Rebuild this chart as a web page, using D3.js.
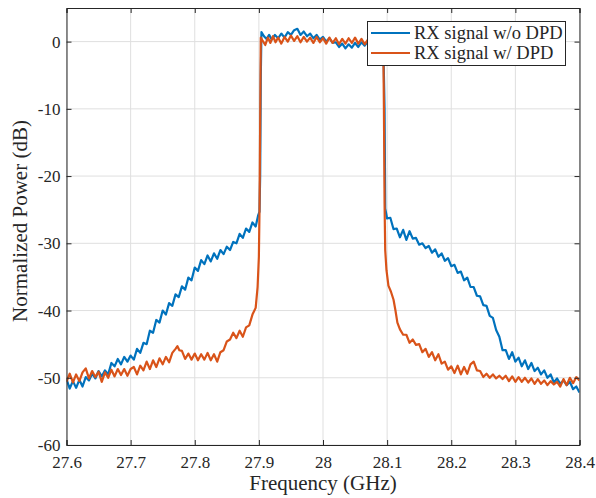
<!DOCTYPE html>
<html>
<head>
<meta charset="utf-8">
<script src="https://cdn.jsdelivr.net/npm/d3@7"></script>
<style>
  body { margin: 0; background: #fff; }
</style>
</head>
<body>
<div id="chart"></div>
<script>
// tick labels
const xTicks = [27.6, 27.7, 27.8, 27.9, 28, 28.1, 28.2, 28.3, 28.4];
const yTicks = [-60, -50, -40, -30, -20, -10, 0];

// RX signal w/o DPD : [frequency GHz, power dB]
const noDpd = [
  [27.600,-50.2],[27.605,-51.6],[27.610,-50.5],[27.615,-51.5],[27.620,-50.3],[27.625,-51.3],
  [27.630,-49.9],[27.635,-50.4],[27.640,-49.4],[27.645,-50.1],[27.650,-49.0],[27.655,-49.8],
  [27.660,-48.9],[27.665,-49.5],[27.670,-47.8],[27.675,-48.3],[27.680,-47.2],[27.685,-48.0],
  [27.690,-46.9],[27.695,-47.6],[27.700,-46.7],[27.705,-47.3],[27.710,-45.7],[27.715,-46.3],
  [27.720,-44.8],[27.725,-45.0],[27.730,-43.0],[27.735,-43.3],[27.740,-41.4],[27.745,-41.8],
  [27.750,-40.0],[27.755,-40.6],[27.760,-38.9],[27.765,-39.3],[27.770,-37.6],[27.775,-38.0],
  [27.780,-36.4],[27.785,-36.9],[27.790,-35.1],[27.795,-35.5],[27.800,-33.6],[27.805,-34.1],
  [27.810,-32.5],[27.815,-33.1],[27.820,-31.8],[27.825,-32.7],[27.830,-31.5],[27.835,-32.3],
  [27.840,-31.0],[27.845,-31.6],[27.850,-30.5],[27.855,-31.0],[27.860,-29.8],[27.865,-30.0],
  [27.870,-28.6],[27.875,-29.2],[27.880,-27.8],[27.885,-28.3],[27.890,-26.9],[27.895,-27.5],
  [27.899,-25.8],[27.901,-25.3],[27.902,-20],[27.903,-5],[27.904,1.4],[27.908,0.8],
  [27.912,0.4],[27.916,1.0],[27.920,0.3],[27.925,1.0],[27.930,0.5],[27.935,1.2],
  [27.940,0.6],[27.945,1.4],[27.950,1.0],[27.955,1.7],[27.960,1.9],[27.965,1.0],
  [27.970,1.5],[27.975,0.8],[27.980,1.2],[27.985,0.5],[27.990,1.0],[27.995,0.3],
  [28.000,0.7],[28.005,0.0],[28.010,0.5],[28.015,-0.2],[28.020,-0.1],[28.025,-0.8],
  [28.030,-0.3],[28.035,-1.0],[28.040,-0.4],[28.045,-0.9],[28.050,-0.2],[28.055,-0.8],
  [28.060,-0.1],[28.065,-0.6],[28.070,0.0],[28.075,-0.5],[28.080,0.2],[28.085,-0.3],
  [28.090,0.3],[28.094,0.0],[28.096,-10],[28.097,-24.8],[28.100,-26.3],[28.105,-26.2],
  [28.110,-27.9],[28.115,-27.8],[28.120,-29.1],[28.125,-28.0],[28.130,-29.5],[28.135,-28.2],
  [28.140,-29.3],[28.145,-29.2],[28.150,-30.2],[28.155,-30.0],[28.160,-30.7],[28.165,-30.4],
  [28.170,-31.4],[28.175,-30.9],[28.180,-32.0],[28.185,-31.5],[28.190,-32.6],[28.195,-32.2],
  [28.200,-33.4],[28.205,-33.2],[28.210,-34.4],[28.215,-34.2],[28.220,-35.5],[28.225,-35.1],
  [28.230,-36.5],[28.235,-36.5],[28.240,-37.8],[28.245,-37.9],[28.250,-39.2],[28.255,-39.3],
  [28.260,-40.8],[28.265,-41.1],[28.270,-42.9],[28.275,-43.9],[28.280,-45.9],[28.285,-45.9],
  [28.290,-47.2],[28.295,-46.2],[28.300,-47.6],[28.305,-47.0],[28.310,-48.3],[28.315,-47.4],
  [28.320,-48.7],[28.325,-47.8],[28.330,-49.0],[28.335,-48.5],[28.340,-49.5],[28.345,-48.9],
  [28.350,-50.0],[28.355,-49.5],[28.360,-50.7],[28.365,-50.1],[28.370,-50.9],[28.375,-50.4],
  [28.380,-51.1],[28.385,-50.6],[28.390,-51.7],[28.395,-51.3],[28.400,-52.2]
];

// RX signal w/ DPD
const withDpd = [
  [27.600,-50.6],[27.605,-49.4],[27.610,-50.7],[27.615,-49.5],[27.620,-50.5],[27.625,-49.2],
  [27.630,-48.6],[27.635,-50.1],[27.640,-49.0],[27.645,-49.9],[27.650,-49.1],[27.655,-50.6],
  [27.660,-49.2],[27.665,-50.0],[27.670,-48.8],[27.675,-49.8],[27.680,-48.7],[27.685,-49.6],
  [27.690,-48.7],[27.695,-49.7],[27.700,-48.7],[27.705,-48.4],[27.710,-49.5],[27.715,-48.2],
  [27.720,-48.9],[27.725,-47.6],[27.730,-48.7],[27.735,-47.4],[27.740,-48.4],[27.745,-47.1],
  [27.750,-48.0],[27.755,-46.9],[27.760,-47.7],[27.765,-46.3],[27.770,-45.7],[27.773,-45.3],
  [27.776,-45.9],[27.780,-46.0],[27.785,-47.2],[27.790,-46.4],[27.795,-47.3],[27.800,-46.4],
  [27.805,-47.4],[27.810,-46.5],[27.815,-47.3],[27.820,-46.3],[27.825,-47.4],[27.830,-46.5],
  [27.835,-47.6],[27.840,-46.2],[27.845,-45.9],[27.850,-44.6],[27.855,-44.3],[27.860,-43.3],
  [27.865,-44.1],[27.870,-43.0],[27.875,-43.9],[27.880,-42.5],[27.885,-42.2],[27.890,-40.6],
  [27.895,-39.6],[27.898,-36.5],[27.900,-32.0],[27.901,-25.0],[27.902,-12],[27.903,0.6],
  [27.906,0.1],[27.910,-0.5],[27.914,0.6],[27.918,-0.2],[27.922,0.8],[27.926,-0.1],
  [27.930,0.6],[27.935,-0.3],[27.940,0.7],[27.945,0.0],[27.950,0.9],[27.955,0.1],
  [27.960,0.8],[27.965,-0.1],[27.970,0.7],[27.975,0.0],[27.980,0.6],[27.985,-0.2],
  [27.990,0.7],[27.995,-0.1],[28.000,0.5],[28.005,-0.3],[28.010,0.6],[28.015,-0.2],
  [28.020,0.5],[28.025,-0.4],[28.030,0.4],[28.035,-0.3],[28.040,0.5],[28.045,-0.2],
  [28.050,0.6],[28.055,-0.3],[28.060,0.4],[28.065,-0.4],[28.070,0.3],[28.075,-0.5],
  [28.080,0.2],[28.085,-0.4],[28.090,0.3],[28.094,-0.1],[28.095,-10],[28.096,-24],
  [28.097,-31],[28.099,-34],[28.102,-36.3],[28.106,-37.2],[28.110,-38.4],[28.113,-40.0],
  [28.116,-41.8],[28.120,-42.8],[28.125,-43.6],[28.130,-43.6],[28.135,-44.8],[28.140,-44.3],
  [28.145,-45.1],[28.150,-45.0],[28.155,-46.2],[28.160,-45.7],[28.165,-46.9],[28.170,-46.2],
  [28.175,-47.4],[28.180,-46.5],[28.185,-47.9],[28.190,-47.6],[28.195,-48.8],[28.200,-48.3],
  [28.205,-49.3],[28.210,-48.2],[28.215,-49.5],[28.220,-48.4],[28.225,-49.4],[28.230,-48.0],
  [28.235,-47.6],[28.240,-48.9],[28.245,-49.0],[28.250,-49.9],[28.255,-49.4],[28.260,-50.0],
  [28.265,-49.5],[28.270,-50.1],[28.275,-49.7],[28.280,-50.2],[28.285,-49.7],[28.290,-50.5],
  [28.295,-49.8],[28.300,-50.6],[28.305,-49.9],[28.310,-50.6],[28.315,-50.0],[28.320,-50.7],
  [28.325,-50.1],[28.330,-50.9],[28.335,-50.2],[28.340,-50.9],[28.345,-50.4],[28.350,-51.1],
  [28.355,-50.5],[28.360,-51.0],[28.365,-50.6],[28.370,-51.3],[28.375,-50.2],[28.380,-51.1],
  [28.385,-50.0],[28.390,-50.8],[28.395,-49.9],[28.400,-50.4]
];

const seriesNames = ["RX signal w/o DPD", "RX signal w/ DPD"];
const seriesColors = ["#0072BD", "#D95319"];

const W = 596, H = 498;
const margin = { top: 8, right: 16.5, bottom: 53, left: 66.5 };
const width = W - margin.left - margin.right;
const height = H - margin.top - margin.bottom;
const axisColor = "#262626";
const serif = "'Liberation Serif', 'DejaVu Serif', serif";

const svg = d3.select("#chart").append("svg")
  .attr("width", W)
  .attr("height", H);

const g = svg.append("g")
  .attr("transform", `translate(${margin.left},${margin.top})`);

const x = d3.scaleLinear().domain([27.6, 28.4]).range([0, width]);
const y = d3.scaleLinear().domain([-60, 5]).range([height, 0]);

// grid
g.append("g").selectAll("line").data(xTicks).join("line")
  .attr("x1", d => x(d)).attr("x2", d => x(d))
  .attr("y1", 0).attr("y2", height)
  .attr("stroke", "#dfdfdf").attr("stroke-width", 1);
g.append("g").selectAll("line").data(yTicks).join("line")
  .attr("x1", 0).attr("x2", width)
  .attr("y1", d => y(d)).attr("y2", d => y(d))
  .attr("stroke", "#dfdfdf").attr("stroke-width", 1);

// lines
const line = d3.line()
  .x(d => x(d[0]))
  .y(d => y(d[1]));

svg.append("clipPath").attr("id", "plotclip")
  .append("rect").attr("width", width).attr("height", height);

[noDpd, withDpd].forEach((s, i) => {
  g.append("path")
    .datum(s)
    .attr("clip-path", "url(#plotclip)")
    .attr("d", line)
    .attr("fill", "none")
    .attr("stroke", seriesColors[i])
    .attr("stroke-width", 2.2)
    .attr("stroke-linejoin", "round");
});

// axes (ticks inward, on all four sides like matlab)
const fmtX = d => String(+d.toFixed(1));
const axB = g.append("g")
  .attr("transform", `translate(0,${height})`)
  .call(d3.axisBottom(x).tickValues(xTicks).tickSize(-5).tickPadding(12).tickFormat(fmtX));
const axT = g.append("g")
  .call(d3.axisTop(x).tickValues(xTicks).tickSize(-5).tickFormat(""));
const axL = g.append("g")
  .call(d3.axisLeft(y).tickValues(yTicks).tickSize(-5).tickPadding(6).tickFormat(d => String(d)));
const axR = g.append("g")
  .attr("transform", `translate(${width},0)`)
  .call(d3.axisRight(y).tickValues(yTicks).tickSize(-5).tickFormat(""));

[axB, axT, axL, axR].forEach(a => {
  a.select(".domain").attr("stroke", axisColor);
  a.selectAll(".tick line").attr("stroke", axisColor);
  a.selectAll("text")
    .style("font-family", serif)
    .style("font-size", "17px")
    .attr("fill", axisColor);
});
axB.selectAll("text").attr("dy", "0.66em");
axL.selectAll("text").attr("dy", "0.33em");

// axis labels
g.append("text")
  .attr("x", width / 2)
  .attr("y", height + 45)
  .attr("text-anchor", "middle")
  .style("font-family", serif)
  .style("font-size", "21px")
  .attr("fill", axisColor)
  .text("Frequency (GHz)");

g.append("text")
  .attr("transform", "rotate(-90)")
  .attr("x", -213)
  .attr("y", -39.5)
  .attr("text-anchor", "middle")
  .style("font-family", serif)
  .style("font-size", "21px")
  .attr("fill", axisColor)
  .text("Normalized Power (dB)");

// legend
const legend = svg.append("g").attr("transform", "translate(367.5,21.5)");
legend.append("rect")
  .attr("width", 198).attr("height", 44)
  .attr("fill", "#fff")
  .attr("stroke", axisColor).attr("stroke-width", 1);

seriesNames.forEach((name, i) => {
  const row = legend.append("g").attr("transform", `translate(0,${11.5 + i * 20})`);
  row.append("line")
    .attr("x1", 3.5).attr("x2", 42.5)
    .attr("y1", 0).attr("y2", 0)
    .attr("stroke", seriesColors[i]).attr("stroke-width", 2);
  row.append("text")
    .attr("x", 46.5).attr("y", 5.5)
    .style("font-family", serif)
    .style("font-size", "18.5px")
    .attr("fill", axisColor)
    .text(name);
});
</script>
</body>
</html>
